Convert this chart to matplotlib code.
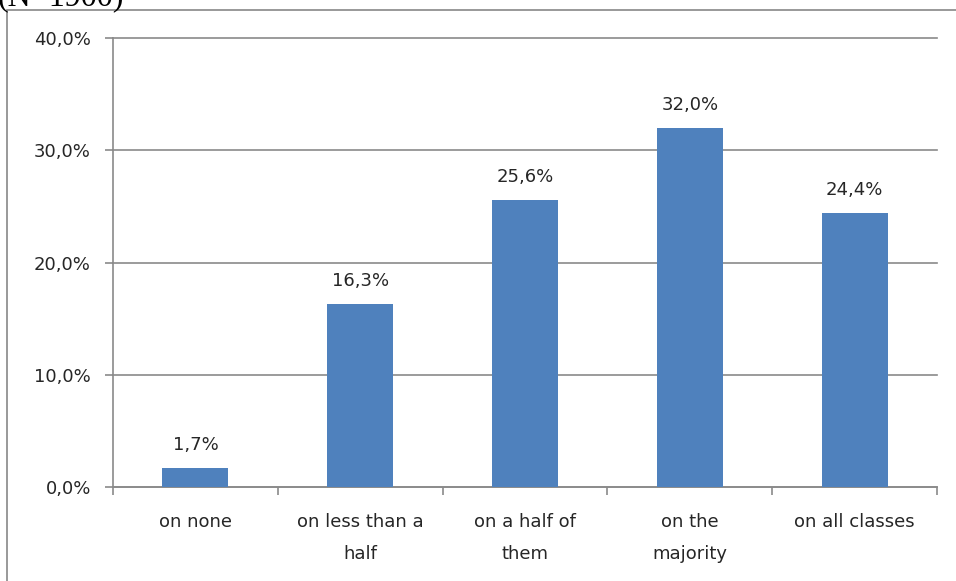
import matplotlib.pyplot as plt
from matplotlib.patches import Rectangle
import numpy as np

# Data
categories = ['on none', 'on less than a\nhalf', 'on a half of\nthem', 'on the\nmajority', 'on all classes']
values = [1.7, 16.3, 25.6, 32.0, 24.4]
yticks = [0, 10, 20, 30, 40]

bar_color = '#4f81bd'
grid_color = '#8a8a8a'
text_color = '#262626'

fig = plt.figure(figsize=(9.56, 5.81), dpi=100)
ax = fig.add_axes([113 / 956, 1 - 487 / 581, (937 - 113) / 956, (487 - 38) / 581])

x = np.arange(len(categories))
ax.bar(x, values, width=0.4, color=bar_color, zorder=3)

# data labels
for xi, v in zip(x, values):
    ax.annotate(f'{v:.1f}%'.replace('.', ','), (xi, v), xytext=(0, 10),
                textcoords='offset points', ha='center', va='bottom',
                fontsize=13, color=text_color)

ax.set_xlim(-0.5, len(categories) - 0.5)
ax.set_ylim(0, 40)
ax.set_yticks(yticks)
ax.set_yticklabels([f'{t:.1f}%'.replace('.', ',') for t in yticks], fontsize=13, color=text_color)
ax.yaxis.grid(True, color=grid_color, linewidth=1.2, zorder=0)
for gl in ax.get_ygridlines():
    gl.set_clip_on(False)
ax.set_axisbelow(True)

# category labels between boundary ticks
ax.set_xticks(np.arange(len(categories) + 1) - 0.5)
ax.set_xticklabels([])
ax.set_xticks(x, minor=True)
ax.set_xticklabels(categories, minor=True, fontsize=13, color=text_color, linespacing=1.95)
ax.tick_params(axis='x', which='minor', length=0, pad=19)
ax.tick_params(axis='x', which='major', length=6, color=grid_color, width=1.2)
ax.tick_params(axis='y', length=6, color=grid_color, width=1.2, pad=10)

for side in ['top', 'right']:
    ax.spines[side].set_visible(False)
ax.spines['left'].set_color(grid_color)
ax.spines['bottom'].set_color(grid_color)
ax.spines['left'].set_linewidth(1.2)
ax.spines['bottom'].set_linewidth(1.2)

# outer chart frame
fig.patches.append(Rectangle((7 / 956, -0.05), 1.0, 1 - 10 / 581 + 0.05,
                             transform=fig.transFigure, fill=False,
                             edgecolor='#888888', linewidth=1.2))

# clipped title from the page above
fig.text(-2 / 956, 1 - 5 / 581, '(N=1900)', family='Liberation Serif', fontsize=23,
         va='baseline', ha='left', color='black')

fig.savefig('out.png', dpi=100)
